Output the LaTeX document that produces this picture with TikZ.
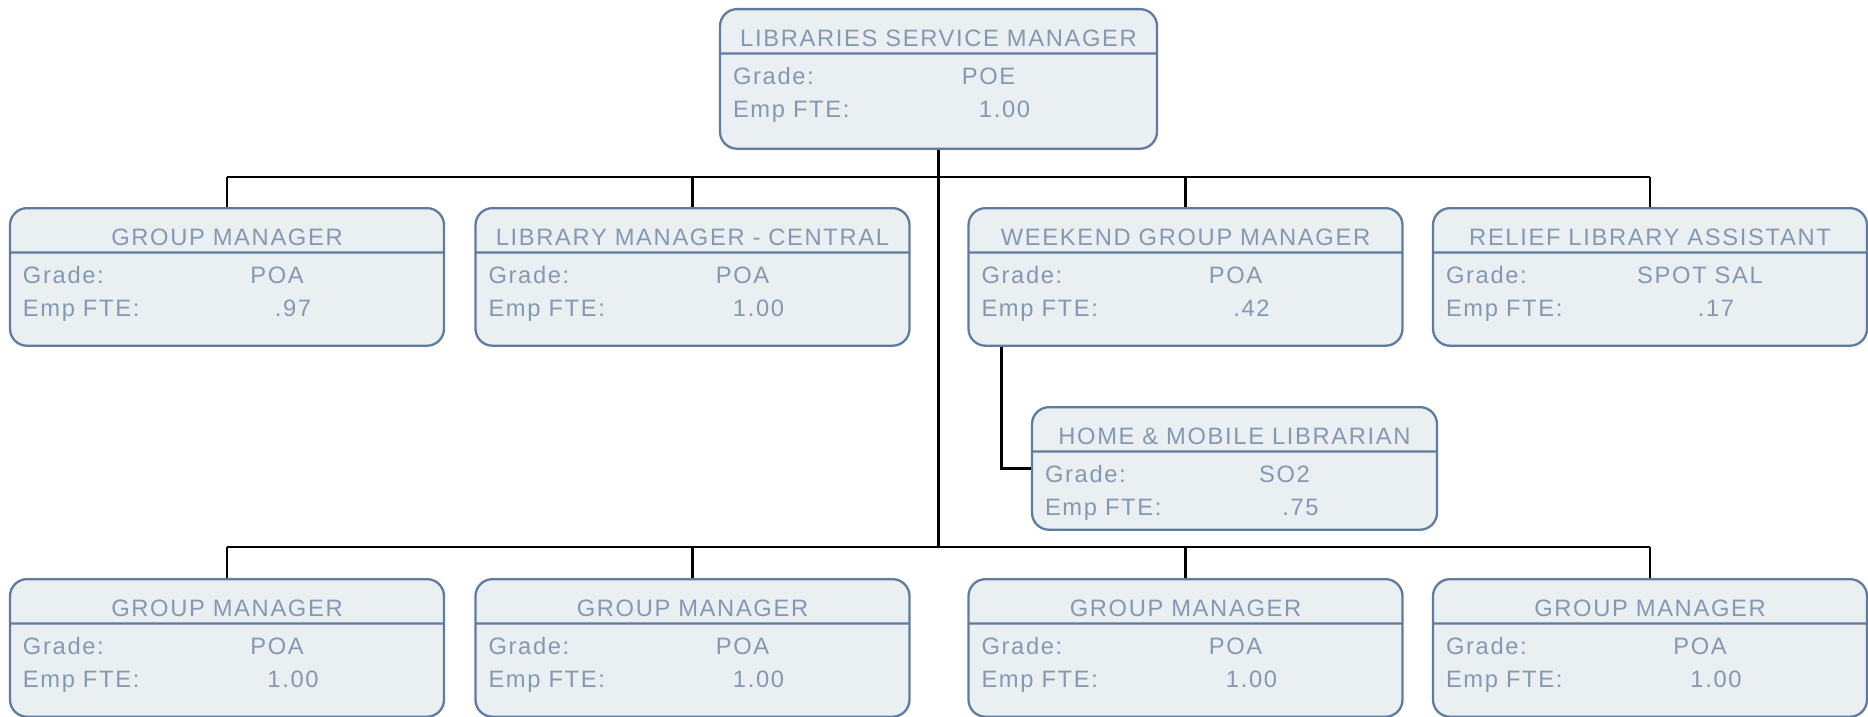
\documentclass[tikz,border=0pt]{standalone}
\usepackage{fontspec}
\newfontfamily\orgfont[LetterSpace=7]{Liberation Sans}
\usepackage{tikz}
\usetikzlibrary{shapes.multipart, positioning}
\usepackage{xcolor}
\definecolor{boxfill}{HTML}{EAEFF2}
\definecolor{boxline}{HTML}{5F7BA0}
\definecolor{boxtext}{HTML}{8598B2}

\newcommand{\roletitle}[1]{\rule[-0.12cm]{0pt}{0.84cm}\makebox[\hsize][c]{#1}}
\newcommand{\roleinfo}[3][0.57cm]{%
  \leavevmode\rule{0pt}{0.59cm}\rlap{Grade:}\hspace*{\dimexpr\hsize/2+1cm\relax}\makebox[0pt]{#2}\\
  \leavevmode\rlap{Emp FTE:}\hspace*{\dimexpr\hsize/2+1.32cm\relax}\makebox[0pt]{#3}\rule[-#1]{0pt}{#1}}

\begin{document}
\begin{tikzpicture}[
  orgbox/.style={draw=boxline, line width=1.3pt, fill=boxfill, rounded corners=0.34cm,
    rectangle split, rectangle split parts=2, text width=8.16cm, align=left,
    inner xsep=0.26cm, inner ysep=0pt, text=boxtext, anchor=north,
    font={\orgfont\fontsize{13.5pt}{0.66cm}\selectfont}},
  link/.style={line width=1.5pt, black}]
\useasboundingbox (0,0) rectangle (37.36,-14.32);
\node[orgbox, text width=8.22cm] (lsm) at (18.77,-0.16)
  {\roletitle{LIBRARIES SERVICE MANAGER}\nodepart{second}\roleinfo[0.61cm]{POE}{1.00}};
\node[orgbox] (gm1) at (4.54,-4.14)
  {\roletitle{GROUP MANAGER}\nodepart{second}\roleinfo{POA}{.97}};
\node[orgbox] (lmc) at (13.85,-4.14)
  {\roletitle{LIBRARY MANAGER - CENTRAL}\nodepart{second}\roleinfo{POA}{1.00}};
\node[orgbox] (wgm) at (23.71,-4.14)
  {\roletitle{WEEKEND GROUP MANAGER}\nodepart{second}\roleinfo{POA}{.42}};
\node[orgbox] (rla) at (33.00,-4.14)
  {\roletitle{RELIEF LIBRARY ASSISTANT}\nodepart{second}\roleinfo{SPOT SAL}{.17}};
\node[orgbox, text width=7.58cm] (hml) at (24.69,-8.12)
  {\roletitle{HOME \& MOBILE LIBRARIAN}\nodepart{second}\roleinfo[0.27cm]{SO2}{.75}};
\node[orgbox] (gm2) at (4.54,-11.56)
  {\roletitle{GROUP MANAGER}\nodepart{second}\roleinfo{POA}{1.00}};
\node[orgbox] (gm3) at (13.85,-11.56)
  {\roletitle{GROUP MANAGER}\nodepart{second}\roleinfo{POA}{1.00}};
\node[orgbox] (gm4) at (23.71,-11.56)
  {\roletitle{GROUP MANAGER}\nodepart{second}\roleinfo{POA}{1.00}};
\node[orgbox] (gm5) at (33.00,-11.56)
  {\roletitle{GROUP MANAGER}\nodepart{second}\roleinfo{POA}{1.00}};
% buses
\coordinate (topbus) at (0,-3.54);
\coordinate (lowbus) at (0,-10.94);
\draw[link] (lsm.south) -- (lsm.south |- lowbus);
\draw[link] (gm1.north |- topbus) -- (rla.north |- topbus);
\draw[link] (gm2.north |- lowbus) -- (gm5.north |- lowbus);
\foreach \n in {gm1,lmc,wgm,rla} \draw[link] (\n.north) -- (\n.north |- topbus);
\foreach \n in {gm2,gm3,gm4,gm5} \draw[link] (\n.north) -- (\n.north |- lowbus);
\draw[link] ([xshift=0.68cm]wgm.south west) |- (hml.west);
\end{tikzpicture}
\end{document}
